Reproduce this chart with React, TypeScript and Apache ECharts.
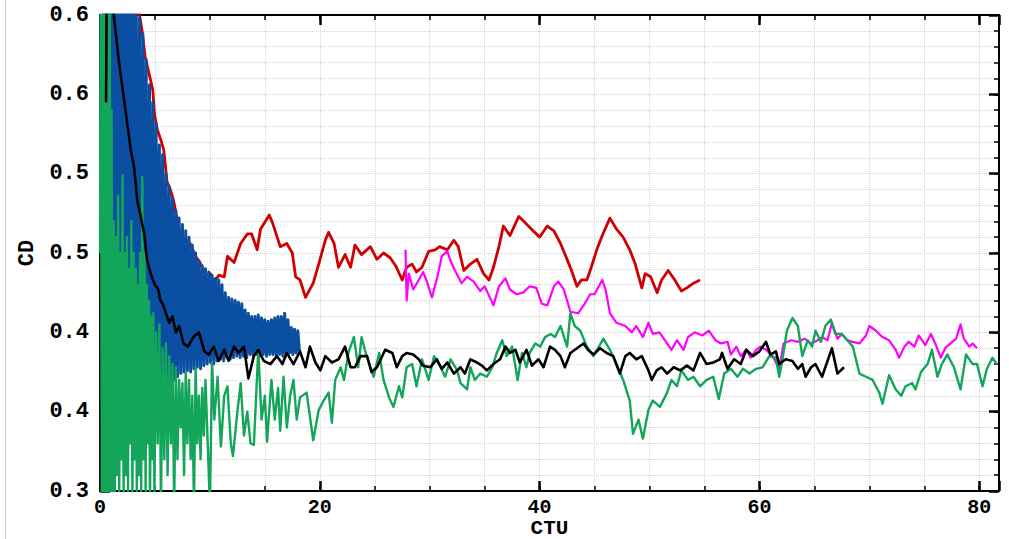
import React, { useEffect, useRef } from "react";
import * as echarts from "echarts";

// Axis ranges
const X_MIN = 0;
const X_MAX = 81.8;
const Y_MIN = 0.3;
const Y_MAX = 0.6;

// Tick labels as printed (one decimal)
const yTickLabels = ["0.3", "0.4", "0.4", "0.5", "0.5", "0.6", "0.6"];
const xTickValues = [0, 20, 40, 60, 80];

// Drag coefficient histories, [CTU, CD]
const redRun: [number, number][] = [
  [2.8, 0.68], [3.6, 0.6], [3.85, 0.589], [4.1, 0.574], [4.4, 0.565], [4.8, 0.553], [4.95, 0.538],
  [5.2, 0.528], [5.5, 0.522], [5.8, 0.515], [6.1, 0.495], [6.4, 0.49], [6.7, 0.483], [7.0, 0.472],
  [7.3, 0.461], [7.8, 0.458], [8.2, 0.456], [8.7, 0.448], [9.1, 0.444], [9.6, 0.436], [10.05, 0.437],
  [10.35, 0.431], [10.8, 0.436], [11.3, 0.435], [11.6, 0.448], [12.2, 0.444], [12.8, 0.456],
  [13.4, 0.462], [13.8, 0.462], [14.3, 0.452], [14.6, 0.465], [15.4, 0.474], [15.7, 0.469],
  [16.4, 0.454], [17.0, 0.456], [17.5, 0.45], [17.8, 0.435], [18.2, 0.433], [18.7, 0.422],
  [19.4, 0.431], [19.9, 0.443], [20.5, 0.458], [20.8, 0.463], [21.3, 0.456], [21.7, 0.441],
  [22.3, 0.449], [22.8, 0.441], [23.2, 0.455], [23.8, 0.449], [24.6, 0.454], [25.2, 0.446],
  [25.8, 0.45], [26.4, 0.447], [26.9, 0.442], [27.5, 0.433], [27.9, 0.441], [28.4, 0.443],
  [28.8, 0.438], [29.3, 0.441], [29.9, 0.451], [30.5, 0.452], [30.9, 0.454], [31.6, 0.452],
  [32.2, 0.458], [32.6, 0.454], [33.1, 0.439], [33.7, 0.443], [34.3, 0.446], [34.9, 0.437],
  [35.4, 0.433], [35.8, 0.441], [36.3, 0.454], [36.7, 0.467], [37.3, 0.461], [38.1, 0.473],
  [38.7, 0.469], [39.4, 0.464], [40.0, 0.46], [40.7, 0.467], [41.3, 0.464], [41.9, 0.456],
  [42.5, 0.446], [42.9, 0.439], [43.4, 0.429], [43.8, 0.433], [44.3, 0.433], [44.7, 0.441],
  [45.2, 0.452], [45.7, 0.461], [46.4, 0.472], [47.0, 0.465], [47.6, 0.46], [48.2, 0.452],
  [48.7, 0.443], [49.3, 0.428], [49.6, 0.437], [50.1, 0.435], [50.7, 0.425], [51.1, 0.433],
  [51.7, 0.439], [52.3, 0.433], [52.9, 0.426], [53.4, 0.428], [54.0, 0.431], [54.6, 0.433],
];

// Blue run: sampled every blueStep CTU from blueStart
const blueStart = 0.3;
const blueStep = 0.15;
const blueCD = [
  0.65, 0.29, 0.66, 0.29, 0.66, 0.31, 0.65, 0.32, 0.66, 0.33,
  0.65, 0.34, 0.66, 0.34, 0.65, 0.345, 0.64, 0.35, 0.63, 0.35,
  0.61, 0.355, 0.598, 0.356, 0.588, 0.36, 0.572, 0.362, 0.556, 0.36,
  0.545, 0.364, 0.532, 0.362, 0.518, 0.365, 0.512, 0.366, 0.5, 0.364,
  0.492, 0.368, 0.484, 0.37, 0.477, 0.372, 0.472, 0.374, 0.468, 0.375,
  0.464, 0.376, 0.46, 0.375, 0.455, 0.377, 0.45, 0.378, 0.445, 0.377,
  0.442, 0.379, 0.44, 0.38, 0.438, 0.381, 0.436, 0.38, 0.434, 0.382,
  0.433, 0.383, 0.43, 0.382, 0.425, 0.384, 0.422, 0.383, 0.421, 0.384,
  0.42, 0.385, 0.419, 0.384, 0.418, 0.385, 0.414, 0.384, 0.412, 0.386,
  0.41, 0.385, 0.41, 0.386, 0.411, 0.385, 0.409, 0.386, 0.408, 0.385,
  0.407, 0.386, 0.408, 0.386, 0.409, 0.385, 0.41, 0.386, 0.41, 0.385,
  0.412, 0.386, 0.408, 0.387, 0.403, 0.386, 0.402, 0.387, 0.401, 0.388,
];

const magentaRun: [number, number][] = [
  [27.8, 0.452], [27.9, 0.42], [28.1, 0.437], [28.5, 0.427], [29.0, 0.433], [29.4, 0.438],
  [29.7, 0.433], [30.2, 0.422], [30.7, 0.435], [31.1, 0.448], [31.6, 0.451], [31.9, 0.445],
  [32.3, 0.439], [32.9, 0.431], [33.4, 0.435], [34.0, 0.432], [34.6, 0.426], [35.0, 0.429],
  [35.8, 0.417], [36.3, 0.429], [36.9, 0.434], [37.3, 0.427], [37.9, 0.424], [38.5, 0.425],
  [39.1, 0.429], [39.7, 0.428], [40.2, 0.418], [40.7, 0.417], [41.3, 0.429], [41.7, 0.432],
  [42.2, 0.427], [42.8, 0.413], [43.5, 0.412], [44.1, 0.418], [44.6, 0.424], [45.0, 0.424],
  [45.7, 0.433], [46.0, 0.427], [46.4, 0.412], [47.0, 0.406], [47.8, 0.404], [48.4, 0.4],
  [48.8, 0.404], [49.4, 0.397], [49.9, 0.406], [50.3, 0.399], [50.9, 0.4], [51.6, 0.393],
  [52.0, 0.389], [52.5, 0.395], [53.1, 0.389], [53.5, 0.397], [54.1, 0.4], [54.8, 0.398],
  [55.4, 0.401], [56.0, 0.395], [56.5, 0.393], [57.1, 0.394], [57.4, 0.386], [57.9, 0.391],
  [58.3, 0.385], [58.8, 0.389], [59.2, 0.384], [59.7, 0.389], [60.1, 0.391], [60.6, 0.389],
  [61.2, 0.385], [61.8, 0.377], [62.2, 0.393], [62.9, 0.395], [63.5, 0.394], [64.1, 0.396],
  [64.7, 0.393], [65.3, 0.395], [65.7, 0.397], [66.2, 0.395], [66.6, 0.406], [67.1, 0.396],
  [67.5, 0.399], [68.0, 0.395], [68.5, 0.394], [69.1, 0.393], [69.7, 0.398], [70.0, 0.404],
  [70.6, 0.401], [71.2, 0.397], [71.8, 0.395], [72.4, 0.389], [72.7, 0.384], [73.2, 0.391],
  [73.6, 0.394], [74.1, 0.391], [74.5, 0.398], [75.1, 0.392], [75.6, 0.399], [76.0, 0.393],
  [76.5, 0.384], [76.9, 0.39], [77.4, 0.393], [77.9, 0.396], [78.3, 0.405], [78.6, 0.396],
  [79.1, 0.391], [79.4, 0.393], [79.8, 0.39],
];

const greenRun: [number, number][] = [
  [0.0, 0.45], [0.08, 0.68], [0.16, 0.29], [0.24, 0.68], [0.32, 0.29], [0.4, 0.68], [0.48, 0.29],
  [0.56, 0.66], [0.64, 0.29], [0.72, 0.64], [0.8, 0.3], [0.88, 0.62], [0.96, 0.29], [1.05, 0.54],
  [1.15, 0.3], [1.25, 0.47], [1.35, 0.29], [1.45, 0.46], [1.55, 0.31], [1.65, 0.486], [1.75, 0.3],
  [1.85, 0.45], [1.95, 0.32], [2.05, 0.499], [2.15, 0.29], [2.25, 0.45], [2.35, 0.31], [2.45, 0.46],
  [2.55, 0.3], [2.65, 0.44], [2.75, 0.33], [2.85, 0.47], [2.95, 0.29], [3.05, 0.45], [3.15, 0.32],
  [3.25, 0.44], [3.35, 0.3], [3.45, 0.43], [3.55, 0.31], [3.65, 0.45], [3.75, 0.3], [3.85, 0.498],
  [3.95, 0.32], [4.05, 0.45], [4.15, 0.3], [4.25, 0.43], [4.35, 0.33], [4.45, 0.42], [4.55, 0.29],
  [4.65, 0.41], [4.75, 0.32], [4.85, 0.412], [4.95, 0.3], [5.1, 0.4], [5.25, 0.33], [5.4, 0.405],
  [5.55, 0.29], [5.7, 0.39], [5.85, 0.32], [6.0, 0.393], [6.15, 0.31], [6.3, 0.385], [6.45, 0.33],
  [6.6, 0.38], [6.75, 0.29], [6.9, 0.378], [7.05, 0.32], [7.2, 0.37], [7.35, 0.34], [7.5, 0.368],
  [7.65, 0.31], [7.8, 0.375], [7.95, 0.33], [8.1, 0.37], [8.25, 0.32], [8.4, 0.36], [8.55, 0.29],
  [8.7, 0.378], [8.85, 0.33], [9.0, 0.36], [9.15, 0.32], [9.3, 0.365], [9.45, 0.335], [9.6, 0.37],
  [9.8, 0.33], [10.0, 0.29], [10.2, 0.381], [10.4, 0.345], [10.7, 0.372], [11.0, 0.328],
  [11.3, 0.36], [11.6, 0.366], [11.9, 0.33], [12.1, 0.322], [12.5, 0.35], [12.8, 0.368],
  [13.1, 0.335], [13.4, 0.35], [13.7, 0.33], [14.0, 0.329], [14.4, 0.389], [14.7, 0.345],
  [15.0, 0.36], [15.2, 0.331], [15.6, 0.37], [15.9, 0.345], [16.2, 0.365], [16.4, 0.338],
  [16.7, 0.372], [17.0, 0.34], [17.3, 0.36], [17.6, 0.37], [17.9, 0.345], [18.2, 0.359],
  [18.8, 0.362], [19.4, 0.332], [19.9, 0.351], [20.35, 0.357], [20.8, 0.362], [21.1, 0.343],
  [21.4, 0.37], [21.9, 0.378], [22.2, 0.37], [22.6, 0.387], [23.1, 0.397], [23.5, 0.378],
  [23.8, 0.397], [24.1, 0.389], [24.6, 0.378], [24.9, 0.372], [25.4, 0.387], [25.8, 0.37],
  [26.3, 0.359], [26.7, 0.353], [27.2, 0.366], [27.5, 0.359], [27.9, 0.378], [28.4, 0.38],
  [28.8, 0.366], [29.3, 0.383], [29.9, 0.37], [30.4, 0.385], [31.0, 0.378], [31.4, 0.372],
  [31.9, 0.383], [32.5, 0.376], [32.8, 0.368], [33.4, 0.364], [33.7, 0.378], [34.1, 0.37],
  [34.6, 0.374], [35.2, 0.372], [35.7, 0.378], [36.1, 0.387], [36.6, 0.395], [37.0, 0.385],
  [37.5, 0.391], [38.0, 0.37], [38.4, 0.387], [38.8, 0.378], [39.1, 0.387], [39.6, 0.393],
  [40.05, 0.391], [40.5, 0.397], [41.0, 0.399], [41.4, 0.397], [41.9, 0.404], [42.5, 0.391],
  [42.8, 0.412], [43.2, 0.404], [43.7, 0.401], [44.3, 0.391], [44.9, 0.385], [45.4, 0.391],
  [45.8, 0.396], [46.4, 0.389], [47.0, 0.38], [47.6, 0.37], [48.2, 0.357], [48.5, 0.336],
  [49.0, 0.345], [49.4, 0.333], [49.9, 0.351], [50.3, 0.357], [50.95, 0.353], [51.6, 0.362],
  [52.0, 0.37], [52.5, 0.366], [52.9, 0.376], [53.5, 0.37], [54.0, 0.372], [54.6, 0.366],
  [55.2, 0.37], [55.8, 0.372], [56.3, 0.358], [56.8, 0.374], [57.4, 0.377], [58.0, 0.372],
  [58.5, 0.377], [59.1, 0.374], [59.7, 0.377], [60.3, 0.378], [60.9, 0.385], [61.5, 0.384],
  [61.8, 0.372], [62.1, 0.383], [62.5, 0.401], [63.0, 0.409], [63.5, 0.404], [63.9, 0.385],
  [64.4, 0.395], [64.8, 0.391], [65.1, 0.401], [65.6, 0.394], [66.0, 0.404], [66.5, 0.408],
  [66.9, 0.399], [67.5, 0.399], [68.0, 0.395], [68.5, 0.391], [69.1, 0.374], [69.7, 0.372],
  [70.3, 0.37], [70.9, 0.362], [71.2, 0.355], [71.8, 0.373], [72.4, 0.364], [72.9, 0.36],
  [73.3, 0.366], [73.9, 0.368], [74.2, 0.364], [74.7, 0.375], [75.3, 0.38], [75.7, 0.389],
  [76.2, 0.372], [76.6, 0.38], [77.1, 0.386], [77.7, 0.378], [78.3, 0.364], [78.8, 0.386],
  [79.4, 0.38], [79.8, 0.38], [80.3, 0.366], [80.7, 0.377], [81.2, 0.384], [81.6, 0.38],
];

const blackRun: [number, number][] = [
  [0.55, 0.545], [0.62, 0.62], [0.9, 0.66], [1.15, 0.61], [1.25, 0.6], [1.7, 0.572], [2.2, 0.546],
  [2.8, 0.515], [3.1, 0.504], [3.4, 0.483], [4.0, 0.463], [4.3, 0.445], [4.7, 0.435], [5.0, 0.43],
  [5.3, 0.427], [5.5, 0.42], [5.7, 0.418], [6.0, 0.412], [6.3, 0.406], [6.6, 0.41], [6.9, 0.4],
  [7.2, 0.404], [7.6, 0.393], [8.0, 0.391], [8.5, 0.397], [9.0, 0.4], [9.5, 0.388], [9.9, 0.386],
  [10.35, 0.391], [10.8, 0.382], [11.3, 0.389], [11.7, 0.382], [12.2, 0.391], [12.6, 0.387],
  [13.1, 0.391], [13.5, 0.371], [14.0, 0.385], [14.4, 0.389], [14.9, 0.382], [15.5, 0.38],
  [16.1, 0.385], [16.6, 0.38], [17.0, 0.387], [17.6, 0.38], [18.2, 0.388], [18.7, 0.378],
  [19.1, 0.391], [19.6, 0.381], [20.05, 0.376], [20.5, 0.385], [21.1, 0.381], [21.7, 0.383],
  [22.3, 0.391], [22.8, 0.378], [23.2, 0.378], [23.7, 0.385], [24.3, 0.385], [24.7, 0.375],
  [25.2, 0.378], [25.95, 0.389], [26.6, 0.387], [27.0, 0.378], [27.5, 0.385], [27.9, 0.387],
  [28.5, 0.386], [29.0, 0.383], [29.4, 0.379], [30.05, 0.378], [30.65, 0.383], [31.1, 0.377],
  [31.6, 0.381], [32.2, 0.374], [32.8, 0.378], [33.2, 0.374], [33.7, 0.383], [34.3, 0.381],
  [34.75, 0.379], [35.2, 0.376], [35.8, 0.38], [36.4, 0.383], [36.9, 0.391], [37.3, 0.387],
  [37.8, 0.389], [38.2, 0.381], [38.8, 0.389], [39.3, 0.379], [39.9, 0.383], [40.35, 0.378],
  [40.95, 0.391], [41.4, 0.389], [41.9, 0.385], [42.3, 0.378], [42.8, 0.387], [43.4, 0.39],
  [44.0, 0.393], [44.4, 0.389], [44.9, 0.386], [45.5, 0.39], [46.1, 0.387], [46.7, 0.385],
  [47.3, 0.374], [47.8, 0.385], [48.2, 0.387], [48.8, 0.383], [49.3, 0.385], [49.9, 0.376],
  [50.2, 0.37], [50.65, 0.376], [51.1, 0.378], [51.6, 0.374], [52.2, 0.378], [52.8, 0.376],
  [53.4, 0.379], [54.0, 0.376], [54.6, 0.387], [55.2, 0.38], [55.8, 0.381], [56.4, 0.383],
  [56.6, 0.387], [57.1, 0.377], [57.7, 0.383], [58.3, 0.38], [58.8, 0.389], [59.4, 0.385],
  [60.0, 0.388], [60.6, 0.394], [61.0, 0.386], [61.5, 0.388], [61.8, 0.38], [62.4, 0.383],
  [63.0, 0.382], [63.5, 0.377], [63.9, 0.38], [64.2, 0.372], [64.7, 0.378], [65.1, 0.38],
  [65.7, 0.372], [66.2, 0.382], [66.6, 0.39], [67.1, 0.374], [67.7, 0.378],
];

const FONT = "'Liberation Mono', 'DejaVu Sans Mono', monospace";
const labelStyle = { fontFamily: FONT, fontWeight: "bold" as const, fontSize: 22, color: "#000" };
const bottomTextStyle = { fontFamily: FONT, fontWeight: "bold" as const, fontSize: 20, lineHeight: 20, color: "#000" };

const isMultiple = (v: number, step: number) => Math.abs(v / step - Math.round(v / step)) < 1e-6;

function xAxis(position: "bottom" | "top", interval: number, major: boolean, extra: object = {}) {
  return {
    type: "value",
    min: X_MIN,
    max: X_MAX,
    interval,
    position,
    axisLine: { show: major, onZero: false, lineStyle: { color: "#000", width: 2 } },
    axisTick: { show: true, inside: true, length: major ? 10 : 5, lineStyle: { color: "#000", width: major ? 2.5 : 1.5 } },
    axisLabel: { show: false },
    splitLine: { show: false },
    ...extra,
  };
}

function yAxis(position: "left" | "right", interval: number, major: boolean, extra: object = {}) {
  return {
    type: "value",
    min: Y_MIN,
    max: Y_MAX,
    interval,
    position,
    axisLine: { show: major, onZero: false, lineStyle: { color: "#000", width: 2 } },
    axisTick: { show: true, inside: true, length: major ? 10 : 5, lineStyle: { color: "#000", width: major ? 2.5 : 1.5 } },
    axisLabel: { show: false },
    splitLine: { show: false },
    ...extra,
  };
}

const gridDots = { show: true, lineStyle: { type: "dotted", color: "#d2d2d2", width: 1 } };

export default function App() {
  const ref = useRef<HTMLDivElement>(null);

  useEffect(() => {
    if (!ref.current) return;
    const chart = echarts.init(ref.current, undefined, { renderer: "svg" });
    const lineSeries = (data: [number, number][], color: string, width: number) => ({
      type: "line",
      data,
      xAxisIndex: 0,
      yAxisIndex: 0,
      showSymbol: false,
      symbol: "none",
      clip: true,
      lineStyle: { color, width, join: "round" },
      emphasis: { disabled: true },
    });
    const blueRun: [number, number][] = blueCD.map((v, i) => [blueStart + i * blueStep, v]);

    chart.setOption({
      animation: false,
      backgroundColor: "#fff",
      grid: { left: 100, right: 10, top: 15, bottom: 48, containLabel: false, outerBoundsMode: "none" },
      xAxis: [
        xAxis("bottom", 20, true, {
          axisLabel: {
            show: true,
            margin: 6,
            ...bottomTextStyle,
            formatter: (v: number) => (xTickValues.some((t) => Math.abs(v - t) < 1e-6) ? String(v) : ""),
          },
          name: "CTU",
          nameLocation: "middle",
          nameGap: 27,
          nameMoveOverlap: false,
          nameTextStyle: { ...bottomTextStyle, fontSize: 21 },
        }),
        xAxis("bottom", 5, false, { splitLine: gridDots }),
        xAxis("top", 20, true),
        xAxis("top", 5, false),
      ],
      yAxis: [
        yAxis("left", 0.05, true, {
          axisLabel: {
            show: true,
            margin: 11,
            ...labelStyle,
            formatter: (v: number) => {
              const k = Math.round((v - Y_MIN) / 0.05);
              return isMultiple(v - Y_MIN, 0.05) ? yTickLabels[k] ?? "" : "";
            },
          },
          name: "CD",
          nameLocation: "middle",
          nameGap: 62,
          nameMoveOverlap: false,
          nameTextStyle: { ...labelStyle },
        }),
        yAxis("left", 0.01, false, { splitLine: gridDots }),
        yAxis("right", 0.05, true),
        yAxis("right", 0.01, false),
      ],
      graphic: [
        { type: "line", shape: { x1: 5.5, y1: 0, x2: 5.5, y2: 539 }, style: { stroke: "#cfcfcf", lineWidth: 1 }, silent: true },
      ],
      series: [
        lineSeries(redRun, "#d00000", 2.8),
        lineSeries(blueRun, "#0b4fa3", 3),
        lineSeries(magentaRun, "#ff00ff", 2.2),
        lineSeries(greenRun, "#13a65a", 2.4),
        lineSeries(blackRun, "#000000", 2.6),
      ],
    });
    return () => chart.dispose();
  }, []);

  return <div ref={ref} style={{ position: "fixed", left: 0, top: 0, width: 1009, height: 539 }} />;
}
